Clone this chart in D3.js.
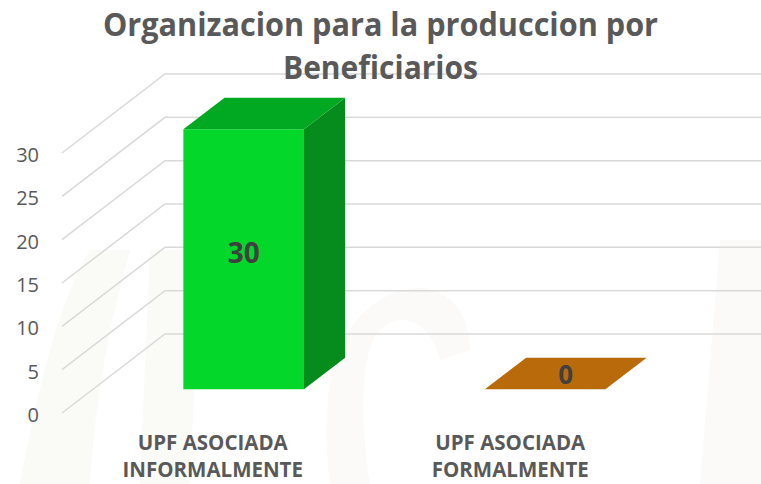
<!DOCTYPE html>
<html><head><meta charset="utf-8">
<script src="https://cdn.jsdelivr.net/npm/d3@7"></script>
<style>body{margin:0;background:#fff}svg{display:block}</style>
</head><body>
<svg id="c" width="761" height="484"></svg>
<script>
const titleLines = ["Organizacion para la produccion por", "Beneficiarios"];
const categories = ["UPF ASOCIADA\nINFORMALMENTE", "UPF ASOCIADA\nFORMALMENTE"];
const values = [30, 0];
const yTicks = [0, 5, 10, 15, 20, 25, 30];
const barFront = ["#03d82a", "#b96b0c"];
const barTop = ["#01a821", "#b96b0c"];
const barSide = ["#068c1d", "#9a5808"];

const svg = d3.select("#c");
const W = 761;
const depthX = 103, depthY = -79;
const barD0 = 0.3, barD1 = 0.7;

const y = d3.scaleLinear().domain([0, 30]).range([413, 153]);
const x = d3.scaleBand().domain(categories).range([62, 665]).paddingInner(0.6).paddingOuter(0.3);
const proj = (px, py, d) => [px + d * depthX, py + d * depthY];

// faint watermark shapes
const wm = svg.append("g").attr("fill", "#f9f8f5").attr("opacity", 0.7);
wm.append("path").attr("d", "M20,484 C40,380 60,300 90,250 L130,250 C110,320 95,400 90,484 Z");
wm.append("path").attr("d", "M140,484 L150,250 L200,250 L190,484 Z");
wm.append("path").attr("d", "M330,484 C320,400 330,330 380,300 C430,270 470,300 470,350 L440,360 C430,320 400,310 380,330 C360,350 360,420 370,484 Z");
wm.append("path").attr("d", "M700,484 L720,240 L761,240 L761,484 Z");

// gridlines
const grid = svg.append("g").attr("stroke", "#d9d9d9").attr("stroke-width", 1.5).attr("fill", "none");
yTicks.forEach(v => {
  const a = [62, y(v)], b = proj(62, y(v), 1);
  grid.append("path").attr("d", d3.line()([a, b, [W, b[1]]]));
});

// tick labels
svg.append("g").selectAll("text").data(yTicks).join("text")
  .attr("x", 39).attr("y", d => y(d) + 9)
  .attr("text-anchor", "end")
  .attr("font-family", "Open Sans").attr("font-size", 20).attr("fill", "#595959")
  .text(d => d);

// bars
const bars = svg.append("g");
categories.forEach((c, i) => {
  const v = values[i];
  const x0 = x(c), x1 = x(c) + x.bandwidth();
  const yb = y(0), yt = y(v);
  const fBL = proj(x0, yb, barD0), fBR = proj(x1, yb, barD0), fTL = proj(x0, yt, barD0), fTR = proj(x1, yt, barD0);
  const bTL = proj(x0, yt, barD1), bTR = proj(x1, yt, barD1), bBR = proj(x1, yb, barD1);
  const poly = pts => "M" + pts.map(p => p.join(",")).join("L") + "Z";
  if (v > 0) {
    bars.append("path").attr("d", poly([fBL, fBR, fTR, fTL])).attr("fill", barFront[i]);
    bars.append("path").attr("d", poly([fBR, bBR, bTR, fTR])).attr("fill", barSide[i]);
  }
  bars.append("path").attr("d", poly([fTL, fTR, bTR, bTL])).attr("fill", barTop[i]);
  // data label
  let lx, ly, fs;
  if (v > 0) { lx = (fBL[0] + fBR[0]) / 2; ly = (fTL[1] + fBL[1]) / 2 + 4; fs = 28; }
  else { lx = (fTL[0] + bTR[0]) / 2; ly = (fTL[1] + bTR[1]) / 2 + 10; fs = 26; }
  bars.append("text").attr("x", lx).attr("y", ly)
    .attr("text-anchor", "middle").attr("font-family", "Open Sans").attr("font-weight", "bold")
    .attr("font-size", fs).attr("fill", "#404040").text(v);
});

// category labels
categories.forEach((c, i) => {
  const cx = x(c) + x.bandwidth() / 2 - i * 4;
  c.split("\n").forEach((line, j) => {
    svg.append("text").attr("x", cx).attr("y", 450 + j * 27)
      .attr("text-anchor", "middle").attr("font-family", "Open Sans").attr("font-weight", "bold")
      .attr("font-size", 20.5).attr("fill", "#595959").text(line);
  });
});

// title
const tW = [555, 195];
titleLines.forEach((t, j) => {
  svg.append("text").attr("x", 380.5).attr("y", 36 + j * 43)
    .attr("text-anchor", "middle").attr("font-family", "Open Sans").attr("font-weight", "bold")
    .attr("font-size", 32).attr("fill", "#595959")
    .attr("textLength", tW[j]).attr("lengthAdjust", "spacingAndGlyphs")
    .text(t);
});
</script>
</body></html>
